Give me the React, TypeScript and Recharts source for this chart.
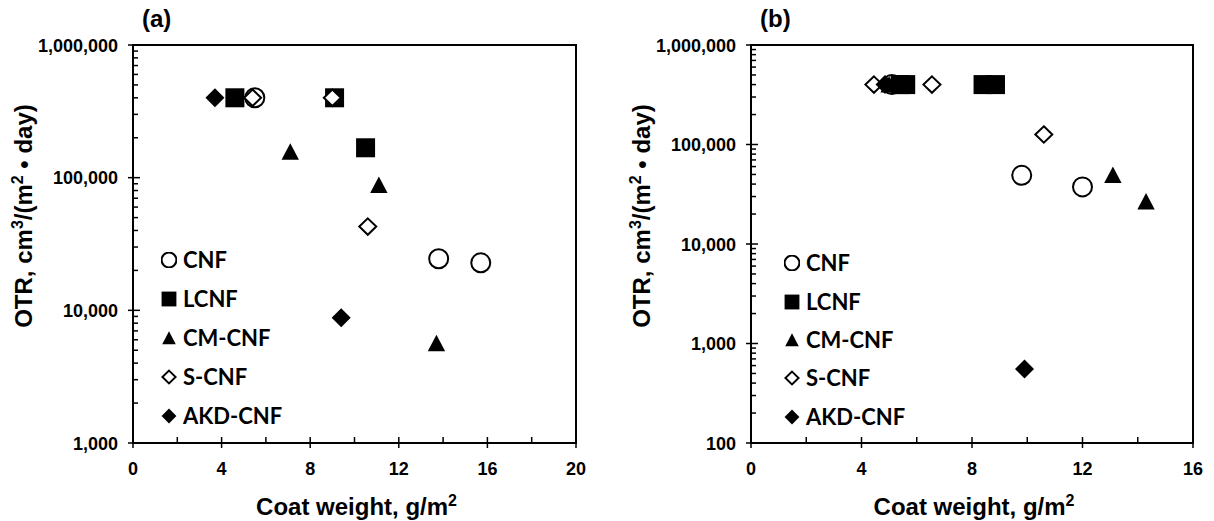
import { ScatterChart, Scatter, XAxis, YAxis, ReferenceArea, Legend } from "recharts";

type Pt = { x: number; y: number };

/* panel (a) */
const cnfA: Pt[] = [{ x: 5.5, y: 400000 }, { x: 13.8, y: 24500 }, { x: 15.7, y: 22800 }];
const lcnfA: Pt[] = [{ x: 4.6, y: 400000 }, { x: 9.1, y: 400000 }, { x: 10.5, y: 168000 }];
const cmcnfA: Pt[] = [{ x: 7.1, y: 157000 }, { x: 11.1, y: 88000 }, { x: 13.7, y: 5650 }];
const scnfA: Pt[] = [{ x: 5.4, y: 400000 }, { x: 9.0, y: 400000 }, { x: 10.6, y: 42800 }];
const akdA: Pt[] = [{ x: 3.7, y: 400000 }, { x: 9.4, y: 8800 }];

/* panel (b) */
const cnfB: Pt[] = [{ x: 5.1, y: 400000 }, { x: 9.8, y: 49000 }, { x: 12.0, y: 37500 }];
const lcnfB: Pt[] = [{ x: 5.4, y: 400000 }, { x: 5.6, y: 400000 }, { x: 8.4, y: 400000 }, { x: 8.85, y: 400000 }];
const cmcnfB: Pt[] = [{ x: 5.0, y: 400000 }, { x: 13.1, y: 49500 }, { x: 14.3, y: 26700 }];
const scnfB: Pt[] = [{ x: 4.45, y: 400000 }, { x: 6.55, y: 400000 }, { x: 10.6, y: 126000 }];
const akdB: Pt[] = [{ x: 4.85, y: 400000 }, { x: 9.9, y: 555 }];

const xTicksA = [0, 2, 4, 6, 8, 10, 12, 14, 16, 18, 20];
const xTicksB = [0, 2, 4, 6, 8, 10, 12, 14, 16];
const decadesA = [1000, 10000, 100000, 1000000];
const decadesB = [100, 1000, 10000, 100000, 1000000];

const seriesNames = ["CNF", "LCNF", "CM-CNF", "S-CNF", "AKD-CNF"];
const seriesKinds = ["circle", "square", "triangle", "diamondOpen", "diamond"];

const TICK_FONT = "'Liberation Sans', Arial, sans-serif";

// decade ticks plus the 2..9 minors in between
function logTicks(decades: number[]) {
  const out: number[] = [];
  decades.forEach((d, i) => {
    out.push(d);
    if (i < decades.length - 1) for (let k = 2; k <= 9; k++) out.push(d * k);
  });
  return out;
}

function Marker({ kind, cx, cy, s = 1 }: { kind: string; cx: number; cy: number; s?: number }) {
  if (cx == null || cy == null) return null;
  switch (kind) {
    case "circle":
      return <circle cx={cx} cy={cy} r={9.5 * s} fill="#fff" stroke="#000" strokeWidth={2} />;
    case "square":
      return <rect x={cx - 9.5 * s} y={cy - 9.5 * s} width={19 * s} height={19 * s} fill="#000" />;
    case "triangle":
      return (
        <polygon
          points={`${cx},${cy - 8.5 * s} ${cx + 8.7 * s},${cy + 8 * s} ${cx - 8.7 * s},${cy + 8 * s}`}
          fill="#000"
        />
      );
    case "diamondOpen":
      return (
        <polygon
          points={`${cx},${cy - 8.2 * s} ${cx + 8.5 * s},${cy} ${cx},${cy + 8.2 * s} ${cx - 8.5 * s},${cy}`}
          fill="#fff"
          stroke="#000"
          strokeWidth={2}
        />
      );
    default:
      return (
        <polygon
          points={`${cx},${cy - 9.5 * s} ${cx + 9.5 * s},${cy} ${cx},${cy + 9.5 * s} ${cx - 9.5 * s},${cy}`}
          fill="#000"
        />
      );
  }
}

const XTick = (props: any) => {
  const { x, y, payload } = props;
  const major = payload.value % 4 === 0;
  return (
    <g>
      <line x1={x} x2={x} y1={y - 6} y2={major ? y + 5 : y} stroke="#000" strokeWidth={1.5} />
      {major && (
        <text x={x} y={y + 32} textAnchor="middle" fontFamily={TICK_FONT} fontWeight={700} fontSize={18} fill="#000">
          {payload.value}
        </text>
      )}
    </g>
  );
};

const YTick = (props: any) => {
  const { x, y, payload } = props;
  const v = payload.value;
  const major = Math.abs(Math.log10(v) - Math.round(Math.log10(v))) < 1e-9;
  return (
    <g>
      <line x1={major ? x - 5 : x} x2={x + (major ? 7 : 5)} y1={y} y2={y} stroke="#000" strokeWidth={1.5} />
      {major && (
        <text x={x - 15} y={y + 6.5} textAnchor="end" fontFamily={TICK_FONT} fontWeight={700} fontSize={18} fill="#000">
          {v.toLocaleString("en-US")}
        </text>
      )}
    </g>
  );
};

function LegendBox({ row }: { row: number }) {
  return (
    <div style={{ fontFamily: "Lato, sans-serif", fontWeight: 700, fontSize: 22, color: "#000" }}>
      {seriesNames.map((name, i) => (
        <div key={name} style={{ display: "flex", alignItems: "center", height: row }}>
          <svg width={16} height={16} style={{ display: "block" }}>
            <Marker kind={seriesKinds[i]} cx={8} cy={8} s={0.78} />
          </svg>
          <span style={{ marginLeft: 6, lineHeight: 1 }}>{name}</span>
        </div>
      ))}
    </div>
  );
}

type PanelProps = {
  width: number;
  left: number;
  right: number;
  xMax: number;
  xTicks: number[];
  decades: number[];
  data: Pt[][];
  legendLeft: number;
  legendTop: number;
  legendRow: number;
};

function Panel({ width, left, right, xMax, xTicks, decades, data, legendLeft, legendTop, legendRow }: PanelProps) {
  const yMin = decades[0];
  const yMax = decades[decades.length - 1];
  const plotW = width - left - right;
  const xTitle = () => (
    <text
      x={left + plotW / 2 + 2}
      y={515}
      textAnchor="middle"
      fontFamily={TICK_FONT}
      fontWeight={700}
      fontSize={24}
      fill="#000"
    >
      Coat weight, g/m
      <tspan dy={-9} fontSize={16}>2</tspan>
    </text>
  );
  const yTitle = () => (
    <text
      transform={`translate(${left - 101},216) rotate(-90)`}
      textAnchor="middle"
      fontFamily={TICK_FONT}
      fontWeight={700}
      fontSize={24}
      fill="#000"
    >
      OTR, cm
      <tspan dy={-9} fontSize={16}>3</tspan>
      <tspan dy={9}>/(m</tspan>
      <tspan dy={-9} fontSize={16}>2</tspan>
      <tspan dy={9}> • day)</tspan>
    </text>
  );
  return (
    <ScatterChart width={width} height={521} margin={{ top: 45, right, bottom: 0, left: 0 }}>
      <XAxis
        type="number"
        dataKey="x"
        domain={[0, xMax]}
        ticks={xTicks}
        interval={0}
        height={78}
        tickSize={0}
        tickMargin={0}
        tickLine={false}
        tick={<XTick />}
        axisLine={{ stroke: "#000", strokeWidth: 2 }}
        allowDataOverflow
        label={xTitle}
      />
      <YAxis
        type="number"
        dataKey="y"
        scale="log"
        domain={[yMin, yMax]}
        ticks={logTicks(decades)}
        interval={0}
        width={left}
        tickSize={0}
        tickMargin={0}
        tickLine={false}
        tick={<YTick />}
        axisLine={{ stroke: "#000", strokeWidth: 2 }}
        allowDataOverflow
        label={yTitle}
      />
      <ReferenceArea x1={0} x2={xMax} y1={yMin} y2={yMax} fill="none" stroke="#000" strokeWidth={2} />
      {data.map((pts, i) => (
        <Scatter
          key={seriesNames[i]}
          name={seriesNames[i]}
          data={pts}
          isAnimationActive={false}
          shape={(p: any) => <Marker kind={seriesKinds[i]} cx={p.cx} cy={p.cy} />}
        />
      ))}
      <Legend
        layout="vertical"
        align="center"
        verticalAlign="middle"
        wrapperStyle={{ left: legendLeft, top: legendTop, width: 200 }}
        content={() => <LegendBox row={legendRow} />}
      />
    </ScatterChart>
  );
}

export default function App() {
  return (
    <div style={{ position: "absolute", left: 0, top: 0, width: 1214, height: 521, background: "#fff" }}>
      <div style={{ position: "absolute", left: 0, top: 0 }}>
        <Panel
          width={600}
          left={133}
          right={24}
          xMax={20}
          xTicks={xTicksA}
          decades={decadesA}
          data={[cnfA, lcnfA, cmcnfA, scnfA, akdA]}
          legendLeft={161}
          legendTop={240}
          legendRow={39}
        />
      </div>
      <div style={{ position: "absolute", left: 600, top: 0 }}>
        <Panel
          width={614}
          left={151}
          right={21}
          xMax={16}
          xTicks={xTicksB}
          decades={decadesB}
          data={[cnfB, lcnfB, cmcnfB, scnfB, akdB]}
          legendLeft={184}
          legendTop={244}
          legendRow={38.4}
        />
      </div>
      <div
        style={{
          position: "absolute",
          left: 142,
          top: 5,
          fontFamily: TICK_FONT,
          fontWeight: 700,
          fontSize: 24,
        }}
      >
        (a)
      </div>
      <div
        style={{
          position: "absolute",
          left: 760,
          top: 5,
          fontFamily: TICK_FONT,
          fontWeight: 700,
          fontSize: 24,
        }}
      >
        (b)
      </div>
    </div>
  );
}
